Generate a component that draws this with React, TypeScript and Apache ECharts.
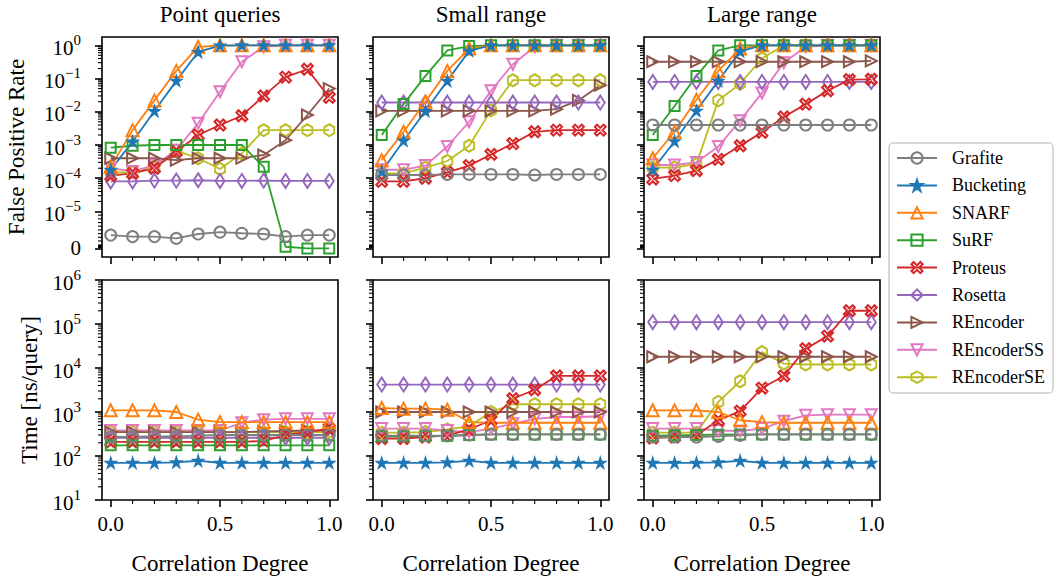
import React, { useEffect, useRef } from 'react';
import * as echarts from 'echarts';

const correlation = [0, 0.1, 0.2, 0.3, 0.4, 0.5, 0.6, 0.7, 0.8, 0.9, 1.0];
const methods = ['Grafite', 'Bucketing', 'SNARF', 'SuRF', 'Proteus', 'Rosetta', 'REncoder', 'REncoderSS', 'REncoderSE'];
const panelTitles = ['Point queries', 'Small range', 'Large range'];
const xTickLabels = [0, 0.5, 1.0];
const xMinorTicks = [0.1, 0.2, 0.3, 0.4, 0.6, 0.7, 0.8, 0.9];
const fprExponents = [-5, -4, -3, -2, -1, 0];
const timeTicks = [10, 100, 1000, 10000, 100000, 1000000];

const fprPoint: Record<string, number[]> = {
  Grafite: [3.6e-6, 3.2e-6, 3.2e-6, 2.7e-6, 3.9e-6, 4.4e-6, 4.1e-6, 3.9e-6, 3.2e-6, 3.6e-6, 3.6e-6],
  Bucketing: [1.8e-4, 1.26e-3, 1.05e-2, 0.085, 0.63, 0.98, 1, 1, 1, 1, 1],
  SNARF: [2.2e-4, 2.8e-3, 0.022, 0.17, 0.9, 1, 1, 1, 1, 1, 1],
  SuRF: [8.3e-4, 9.5e-4, 1e-3, 1e-3, 1e-3, 1e-3, 1e-3, 2.2e-4, 4.5e-7, 0, 0],
  Proteus: [1.2e-4, 1.4e-4, 2e-4, 6.3e-4, 2e-3, 4e-3, 7.6e-3, 0.03, 0.11, 0.19, 0.027],
  Rosetta: [8e-5, 8e-5, 8.5e-5, 8.5e-5, 8.7e-5, 8.3e-5, 8.3e-5, 8.5e-5, 8.3e-5, 8.3e-5, 8.3e-5],
  REncoder: [4e-4, 4e-4, 4e-4, 3.5e-4, 4e-4, 4e-4, 4e-4, 5e-4, 1.4e-3, 8e-3, 0.05],
  REncoderSS: [2e-4, 1.6e-4, 2.5e-4, 7e-4, 4.5e-3, 0.04, 0.32, 0.9, 1, 1, 1],
  REncoderSE: [1.5e-4, 1.5e-4, 2.1e-4, 6.8e-4, 4e-4, 1.9e-4, 5.6e-4, 2.8e-3, 2.8e-3, 2.8e-3, 2.8e-3],
};

const fprSmall: Record<string, number[]> = {
  Grafite: [1.25e-4, 1.25e-4, 1.25e-4, 1.3e-4, 1.3e-4, 1.3e-4, 1.3e-4, 1.25e-4, 1.3e-4, 1.3e-4, 1.3e-4],
  Bucketing: [1.6e-4, 1.35e-3, 0.0105, 0.085, 0.68, 1, 1, 1, 1, 1, 1],
  SNARF: [3.5e-4, 2.5e-3, 0.02, 0.17, 0.8, 1, 1, 1, 1, 1, 1],
  SuRF: [2e-3, 0.017, 0.12, 0.7, 0.95, 1, 1, 1, 1, 1, 1],
  Proteus: [8e-5, 8e-5, 1e-4, 1.5e-4, 2.4e-4, 5.2e-4, 1.1e-3, 2.5e-3, 2.8e-3, 2.8e-3, 2.8e-3],
  Rosetta: [0.019, 0.019, 0.019, 0.019, 0.019, 0.019, 0.019, 0.019, 0.019, 0.019, 0.019],
  REncoder: [0.0107, 0.0107, 0.0107, 0.0107, 0.0107, 0.0107, 0.0107, 0.0107, 0.012, 0.022, 0.063],
  REncoderSS: [1.8e-4, 1.8e-4, 2.4e-4, 9e-4, 5e-3, 0.043, 0.27, 0.9, 1, 1, 1],
  REncoderSE: [1.4e-4, 1.4e-4, 2.1e-4, 3.3e-4, 9.5e-4, 0.011, 0.089, 0.089, 0.089, 0.089, 0.089],
};

const fprLarge: Record<string, number[]> = {
  Grafite: [4e-3, 4e-3, 4e-3, 4e-3, 4e-3, 4e-3, 4e-3, 4e-3, 4e-3, 4e-3, 4e-3],
  Bucketing: [1.8e-4, 1.3e-3, 0.0107, 0.085, 0.66, 1, 1, 1, 1, 1, 1],
  SNARF: [4e-4, 2.5e-3, 0.023, 0.17, 0.8, 1, 1, 1, 1, 1, 1],
  SuRF: [2e-3, 0.015, 0.12, 0.7, 1, 1, 1, 1, 1, 1, 1],
  Proteus: [9.5e-5, 1.2e-4, 1.7e-4, 3.7e-4, 9.5e-4, 2.4e-3, 7e-3, 0.017, 0.043, 0.093, 0.095],
  Rosetta: [0.079, 0.079, 0.079, 0.079, 0.079, 0.079, 0.079, 0.079, 0.079, 0.079, 0.079],
  REncoder: [0.32, 0.32, 0.32, 0.32, 0.32, 0.32, 0.32, 0.32, 0.32, 0.32, 0.34],
  REncoderSS: [2.5e-4, 2.5e-4, 3e-4, 9e-4, 5.4e-3, 0.037, 0.3, 0.9, 1, 1, 1],
  REncoderSE: [2.1e-4, 2.1e-4, 2.7e-4, 0.022, 0.07, 0.4, 1, 1, 1, 1, 1],
};

const timePoint: Record<string, number[]> = {
  Grafite: [270, 275, 280, 280, 290, 300, 300, 300, 300, 300, 300],
  Bucketing: [70, 70, 70, 72, 78, 70, 70, 70, 70, 70, 70],
  SNARF: [1090, 1090, 1090, 1000, 670, 590, 590, 590, 590, 590, 590],
  SuRF: [175, 175, 175, 175, 175, 175, 175, 175, 175, 175, 175],
  Proteus: [210, 210, 210, 210, 210, 210, 210, 220, 300, 350, 420],
  Rosetta: [260, 260, 260, 260, 260, 260, 260, 260, 260, 260, 260],
  REncoder: [350, 350, 350, 350, 350, 350, 350, 360, 370, 380, 380],
  REncoderSS: [380, 380, 380, 380, 380, 380, 570, 670, 700, 700, 700],
  REncoderSE: [350, 350, 350, 350, 350, 350, 350, 350, 350, 350, 350],
};

const timeSmall: Record<string, number[]> = {
  Grafite: [290, 290, 290, 285, 300, 310, 310, 310, 310, 310, 310],
  Bucketing: [70, 70, 70, 72, 78, 70, 70, 70, 70, 70, 70],
  SNARF: [1230, 1190, 1190, 1130, 590, 570, 570, 570, 570, 570, 570],
  SuRF: [280, 280, 285, 290, 300, 310, 310, 310, 310, 310, 310],
  Proteus: [250, 250, 270, 295, 400, 650, 2000, 3200, 6600, 6600, 6600],
  Rosetta: [4200, 4200, 4200, 4200, 4200, 4200, 4200, 4200, 4200, 4200, 4200],
  REncoder: [1000, 1000, 1000, 1000, 1000, 1000, 1000, 1000, 1000, 1000, 1000],
  REncoderSS: [420, 420, 420, 380, 350, 420, 540, 700, 770, 770, 800],
  REncoderSE: [340, 340, 350, 400, 480, 1000, 1500, 1500, 1500, 1500, 1500],
};

const timeLarge: Record<string, number[]> = {
  Grafite: [270, 270, 270, 280, 295, 310, 310, 310, 310, 310, 310],
  Bucketing: [70, 70, 70, 72, 78, 70, 70, 70, 70, 70, 70],
  SNARF: [1090, 1090, 1090, 1000, 650, 590, 570, 570, 570, 570, 570],
  SuRF: [290, 295, 300, 305, 310, 310, 310, 310, 310, 310, 310],
  Proteus: [256, 270, 295, 650, 1050, 3500, 6600, 27500, 53000, 200000, 200000],
  Rosetta: [110000, 110000, 110000, 110000, 110000, 110000, 110000, 110000, 110000, 110000, 110000],
  REncoder: [18000, 18000, 18000, 18000, 18000, 18000, 18000, 18000, 18000, 18000, 18000],
  REncoderSS: [420, 420, 420, 380, 370, 420, 620, 840, 870, 870, 870],
  REncoderSE: [340, 340, 340, 1700, 5000, 23000, 12600, 12000, 12000, 12000, 12000],
};

const FONT = '"Liberation Serif", "Times New Roman", serif';

const COLORS: Record<string, string> = {
  Grafite: '#7f7f7f',
  Bucketing: '#1f77b4',
  SNARF: '#ff7f0e',
  SuRF: '#2ca02c',
  Proteus: '#d62728',
  Rosetta: '#9467bd',
  REncoder: '#8c564b',
  REncoderSS: '#e377c2',
  REncoderSE: '#bcbd22',
};

const SYMBOLS: Record<string, { symbol: string; size: any; hollow: boolean }> = {
  Grafite: { symbol: 'circle', size: 11, hollow: true },
  Bucketing: {
    symbol: 'path://M5,0L6.12,3.45L9.76,3.46L6.82,5.59L7.94,9.05L5,6.91L2.06,9.05L3.18,5.59L0.24,3.46L3.88,3.45Z',
    size: 9,
    hollow: false,
  },
  SNARF: { symbol: 'triangle', size: 12, hollow: true },
  SuRF: { symbol: 'rect', size: 10, hollow: true },
  Proteus: { symbol: 'path://M0,2L2,0L5,3L8,0L10,2L7,5L10,8L8,10L5,7L2,10L0,8L3,5Z', size: 11, hollow: true },
  Rosetta: { symbol: 'diamond', size: [9, 14], hollow: true },
  REncoder: { symbol: 'path://M0,0L10,5L0,10Z', size: 11, hollow: true },
  REncoderSS: { symbol: 'path://M0,0L10,0L5,10Z', size: 11, hollow: true },
  REncoderSE: { symbol: 'path://M5,0L9.33,2.5L9.33,7.5L5,10L0.67,7.5L0.67,2.5Z', size: [10, 12], hollow: true },
};

const GRID_LEFTS = [102, 373, 644];
const GRID_TOPS = [37, 280];
const GRID_W = 236;
const GRID_H = 220;
const X_MIN = -0.04;
const X_MAX = 1.04;
const FPR_MIN = -6.37;
const FPR_MAX = 0.25;
const T_MIN = 10;
const T_MAX = 1e6;

// matplotlib-like symlog transform (linthresh 1e-5, linscale 1, base 10)
const LINTHRESH = 1e-5;
const LINSCALE_ADJ = 1 / (1 - 0.1);
function symlog(v: number): number {
  if (v >= LINTHRESH) return Math.log10(v);
  return Math.log10(LINTHRESH) - LINSCALE_ADJ + (LINSCALE_ADJ * v) / LINTHRESH;
}
const FPR_ZERO = symlog(0);
const fprMajor = [FPR_ZERO, ...fprExponents];
const fprMinor: number[] = [];
for (let e = -7; e <= -1; e++) for (let k = 2; k <= 9; k++) fprMinor.push(symlog(k * Math.pow(10, e)));
const timeMinor: number[] = [];
for (let e = 1; e <= 5; e++) for (let k = 2; k <= 9; k++) timeMinor.push(k * Math.pow(10, e));

function supText(n: number): string {
  return String(n).replace('-', '\u2212');
}

const richLabel = {
  b: { fontFamily: FONT, fontSize: 21, color: '#000', verticalAlign: 'bottom' },
  s: { fontFamily: FONT, fontSize: 15, color: '#000', verticalAlign: 'top', padding: [0, 0, 11, 0] },
};

const TEXT_STYLE = { fill: '#000', align: 'center', verticalAlign: 'middle', textAlign: 'center', textVerticalAlign: 'middle' };
const MAJOR_TICK = { color: '#000', width: 1.6 };

function buildTextElements(): any[] {
  const els: any[] = [];
  panelTitles.forEach((t, col) => {
    els.push({ type: 'text', x: GRID_LEFTS[col] + GRID_W / 2, y: 14, style: { text: t, font: `23px ${FONT}`, ...TEXT_STYLE } });
    els.push({ type: 'text', x: GRID_LEFTS[col] + GRID_W / 2, y: 563, style: { text: 'Correlation Degree', font: `23px ${FONT}`, ...TEXT_STYLE } });
  });
  els.push({ type: 'text', x: 16, y: GRID_TOPS[0] + GRID_H / 2, rotation: Math.PI / 2, style: { text: 'False Positive Rate', font: `23px ${FONT}`, ...TEXT_STYLE } });
  els.push({ type: 'text', x: 29, y: GRID_TOPS[1] + GRID_H / 2, rotation: Math.PI / 2, style: { text: 'Time [ns/query]', font: `23px ${FONT}`, ...TEXT_STYLE } });
  els.push({ type: 'rect', z: -1, shape: { x: 889, y: 143, width: 164, height: 250, r: 4 }, style: { fill: '#fff', stroke: '#cccccc', lineWidth: 1.5 } });
  return els;
}

function buildOption(): any {
  const grids: any[] = [];
  const xAxes: any[] = [];
  const yAxes: any[] = [];
  const series: any[] = [];
  const panelData = [
    [fprPoint, fprSmall, fprLarge],
    [timePoint, timeSmall, timeLarge],
  ];

  for (let row = 0; row < 2; row++) {
    for (let col = 0; col < 3; col++) {
      const i = row * 3 + col;
      grids.push({
        left: GRID_LEFTS[col],
        top: GRID_TOPS[row],
        width: GRID_W,
        height: GRID_H,
        show: true,
        borderColor: '#000',
        borderWidth: 1.6,
        backgroundColor: 'rgba(0,0,0,0)',
      });
      xAxes.push({
        type: 'value',
        gridIndex: i,
        position: 'bottom',
        min: X_MIN,
        max: X_MAX,
        splitLine: { show: false },
        axisLine: { show: false, onZero: false },
        axisTick: { show: true, customValues: xTickLabels, length: 7, lineStyle: MAJOR_TICK },
        axisLabel: {
          show: row === 1,
          customValues: xTickLabels,
          formatter: (v: number) => v.toFixed(1),
          fontFamily: FONT,
          fontSize: 21,
          color: '#000',
          margin: 13,
        },
      });
      if (row === 0) {
        yAxes.push({
          type: 'value',
          gridIndex: i,
          position: 'left',
          min: FPR_MIN,
          max: FPR_MAX,
          splitLine: { show: false },
          axisLine: { show: false, onZero: false },
          axisTick: { show: true, customValues: fprMajor, length: 7, lineStyle: MAJOR_TICK },
          axisLabel: {
            show: col === 0,
            customValues: fprMajor,
            margin: 21,
            formatter: (v: number) => (v < -5.5 ? '{b|0}' : '{b|10}{s|' + supText(Math.round(v)) + '}'),
            rich: richLabel,
          },
        });
      } else {
        yAxes.push({
          type: 'log',
          logBase: 10,
          gridIndex: i,
          position: 'left',
          min: T_MIN,
          max: T_MAX,
          splitLine: { show: false },
          axisLine: { show: false, onZero: false },
          axisTick: { show: true, customValues: timeTicks, length: 7, lineStyle: MAJOR_TICK },
          axisLabel: {
            show: col === 0,
            customValues: timeTicks,
            margin: 21,
            formatter: (v: number) => '{b|10}{s|' + supText(Math.round(Math.log10(v))) + '}',
            rich: richLabel,
          },
        });
      }

      const data = panelData[row][col];
      const drawOrder = methods.slice().reverse();
      for (const m of drawOrder) {
        const sym = SYMBOLS[m];
        const c = COLORS[m];
        series.push({
          type: 'line',
          name: m,
          xAxisIndex: i,
          yAxisIndex: i,
          color: c,
          data: correlation.map((x, k) => [x, row === 0 ? symlog(data[m][k]) : data[m][k]]),
          symbol: sym.symbol,
          symbolSize: sym.size,
          showSymbol: true,
          showAllSymbol: true,
          lineStyle: { color: c, width: 1.8 },
          itemStyle: { color: sym.hollow ? 'rgba(255,255,255,0)' : c, borderColor: c, borderWidth: 2 },
          emphasis: { disabled: true },
          silent: true,
          clip: false,
        });
      }
    }
  }

  return {
    animation: false,
    backgroundColor: '#fff',
    grid: grids,
    xAxis: xAxes,
    yAxis: yAxes,
    series,
    legend: {
      data: methods,
      orient: 'vertical',
      left: 896,
      top: 149,
      padding: 0,
      itemWidth: 40,
      itemHeight: 14,
      itemGap: 9.4,
      selectedMode: false,
      textStyle: { fontFamily: FONT, fontSize: 18, color: '#000', padding: [0, 0, 0, 10] },
    },
    graphic: { elements: buildTextElements() },
  };
}

// minor ticks placed through the chart's own axis scales
function buildMinorTicks(chart: any): any[] {
  const els: any[] = [];
  for (let row = 0; row < 2; row++) {
    for (let col = 0; col < 3; col++) {
      const i = row * 3 + col;
      const finder = { xAxisIndex: i, yAxisIndex: i };
      const yMinor = row === 0 ? fprMinor : timeMinor;
      const yBottom = row === 0 ? FPR_MIN : T_MIN;
      for (const v of yMinor) {
        const p = chart.convertToPixel(finder, [X_MIN, v]);
        if (!p) continue;
        els.push({ type: 'line', silent: true, shape: { x1: p[0] - 4, y1: p[1], x2: p[0], y2: p[1] }, style: { stroke: '#000', lineWidth: 1.1 } });
      }
      for (const v of xMinorTicks) {
        const p = chart.convertToPixel(finder, [v, yBottom]);
        if (!p) continue;
        els.push({ type: 'line', silent: true, shape: { x1: p[0], y1: p[1], x2: p[0], y2: p[1] + 4 }, style: { stroke: '#000', lineWidth: 1.1 } });
      }
    }
  }
  return els;
}

export default function App() {
  const ref = useRef<HTMLDivElement>(null);
  useEffect(() => {
    const chart = echarts.init(ref.current as HTMLDivElement, null, { renderer: 'svg' });
    chart.setOption(buildOption());
    const ticks = buildMinorTicks(chart);
    chart.setOption({ graphic: { elements: [...buildTextElements(), ...ticks] } });
    return () => chart.dispose();
  }, []);
  return (
    <div
      ref={ref}
      style={{ position: 'fixed', left: 0, top: 0, width: 1058, height: 580, background: '#fff' }}
    />
  );
}
